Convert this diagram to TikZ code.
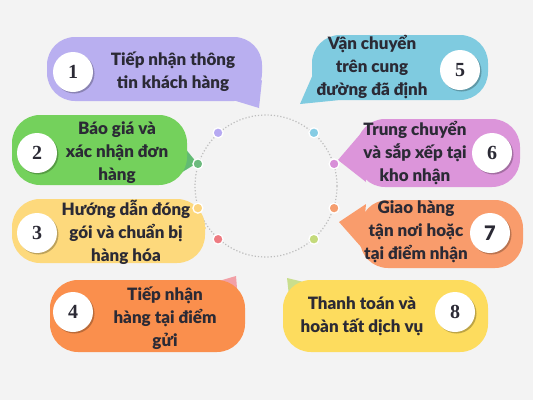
\documentclass[tikz,border=0pt]{standalone}
\usepackage{fontspec}
\IfFontExistsTF{Lato Black}{\setmainfont{Lato}[BoldFont={Lato Black}]}{\setmainfont{Lato}}
\newfontfamily\numfont{Liberation Serif}
\usetikzlibrary{shadows}

\definecolor{bg}{HTML}{F3F3F3}
\definecolor{ink}{HTML}{2B2A35}
\definecolor{ringgray}{HTML}{BDBDBD}
\definecolor{c1}{HTML}{B9AFF0}
\definecolor{c2}{HTML}{74D15C}
\definecolor{c2t}{HTML}{62BB73}
\definecolor{c3}{HTML}{FDD97C}
\definecolor{c4}{HTML}{FA8F4D}
\definecolor{c4t}{HTML}{F2A0A6}
\definecolor{c5}{HTML}{7FCBE0}
\definecolor{c6}{HTML}{DC95DA}
\definecolor{c7}{HTML}{F99C6C}
\definecolor{c8}{HTML}{FDDC5E}
\definecolor{c8t}{HTML}{C9DE8D}
\definecolor{d1}{HTML}{B6A9F2}
\definecolor{d2}{HTML}{6DBA7E}
\definecolor{d3}{HTML}{FCD47E}
\definecolor{d4}{HTML}{EE7B82}
\definecolor{d5}{HTML}{86CCE4}
\definecolor{d6}{HTML}{D88FD8}
\definecolor{d7}{HTML}{F59E6F}
\definecolor{d8}{HTML}{C4DA7B}

\begin{document}
\begin{tikzpicture}[x=1pt, y=-1pt,
  bubble/.style={rounded corners=28pt, inner sep=0pt},
  txt/.style={align=center, text=ink, font=\bfseries\fontsize{17}{23}\selectfont},
  num/.style={circle, fill=white, minimum size=40pt, inner sep=0pt, text=ink,
    font=\numfont\bfseries\fontsize{20}{20}\selectfont,
    drop shadow={shadow xshift=1.5pt, shadow yshift=-1.5pt, fill=black, opacity=0.25}},
  dot/.style={circle, draw=white, line width=1.3pt, minimum size=10pt, inner sep=0pt}]

\useasboundingbox[fill=bg] (0,0) rectangle (533,400);

% ring in the middle
\node[circle, draw=ringgray, dotted, line width=1.2pt, minimum size=142pt] (ring) at (266,186) {};

% tails
\fill[c1] (236,101) -- (262,80) -- (259,108) -- cycle;
\fill[c2t] (180,142) -- (197,163) -- (176,176) -- cycle;
\fill[c3] (188,205) -- (206,228) -- (184,256) -- cycle;
\fill[c4t] (212,283) -- (236,276) -- (238,300) -- cycle;
\fill[c5] (314,72) -- (340,100) -- (300,104) -- cycle;
\fill[c6] (362,132) -- (338,160) -- (366,182) -- cycle;
\fill[c7] (366,204) -- (339,222) -- (362,248) -- cycle;
\fill[c8t] (287,278) -- (312,284) -- (290,305) -- cycle;

% bubbles
\node[bubble, fill=c1, minimum width=215pt, minimum height=64pt] (b1) at (154.5,69) {};
\node[bubble, fill=c2, minimum width=175pt, minimum height=70pt] (b2) at (99.5,150) {};
\node[bubble, fill=c3, minimum width=193pt, minimum height=64pt] (b3) at (108.5,231) {};
\node[bubble, fill=c4, minimum width=195pt, minimum height=72pt] (b4) at (147.5,316) {};
\node[bubble, fill=c5, minimum width=176pt, minimum height=65pt] (b5) at (400,67.5) {};
\node[bubble, fill=c6, minimum width=163pt, minimum height=68pt] (b6) at (438.5,153) {};
\node[bubble, fill=c7, minimum width=163pt, minimum height=68pt] (b7) at (441.5,234) {};
\node[bubble, fill=c8, minimum width=205pt, minimum height=72pt] (b8) at (385.5,316) {};

% texts
\node[txt] (t1) at (173,72) {Tiếp nhận thông\\tin khách hàng};
\node[txt] (t2) at (117,153) {Báo giá và\\xác nhận đơn\\hàng};
\node[txt] (t3) at (126,232) {Hướng dẫn đóng\\gói và chuẩn bị\\hàng hóa};
\node[txt] (t4) at (165,318) {Tiếp nhận\\hàng tại điểm\\gửi};
\node[txt] (t5) at (372,67) {Vận chuyển\\trên cung\\đường đã định};
\node[txt] (t6) at (415,153) {Trung chuyển\\và sắp xếp tại\\kho nhận};
\node[txt] (t7) at (416,232) {Giao hàng\\tận nơi hoặc\\tại điểm nhận};
\node[txt] (t8) at (362,316) {Thanh toán và\\hoàn tất dịch vụ};

% numbers
\node[num] (n1) at (73,72) {1};
\node[num] (n2) at (37,153) {2};
\node[num] (n3) at (37,233) {3};
\node[num] (n4) at (73,312) {4};
\node[num] (n5) at (460,70) {5};
\node[num] (n6) at (492,153) {6};
\node[num, font=\bfseries\fontsize{20}{20}\selectfont] (n7) at (490,233) {7};
\node[num] (n8) at (455,312) {8};

% dots on the ring
\node[dot, fill=d1] (p1) at (ring.132) {};
\node[dot, fill=d2] (p2) at (ring.162) {};
\node[dot, fill=d3] (p3) at (ring.198) {};
\node[dot, fill=d4] (p4) at (ring.228) {};
\node[dot, fill=d5] (p5) at (ring.48) {};
\node[dot, fill=d6] (p6) at (ring.18) {};
\node[dot, fill=d7] (p7) at (ring.-18) {};
\node[dot, fill=d8] (p8) at (ring.-48) {};
\end{tikzpicture}
\end{document}
